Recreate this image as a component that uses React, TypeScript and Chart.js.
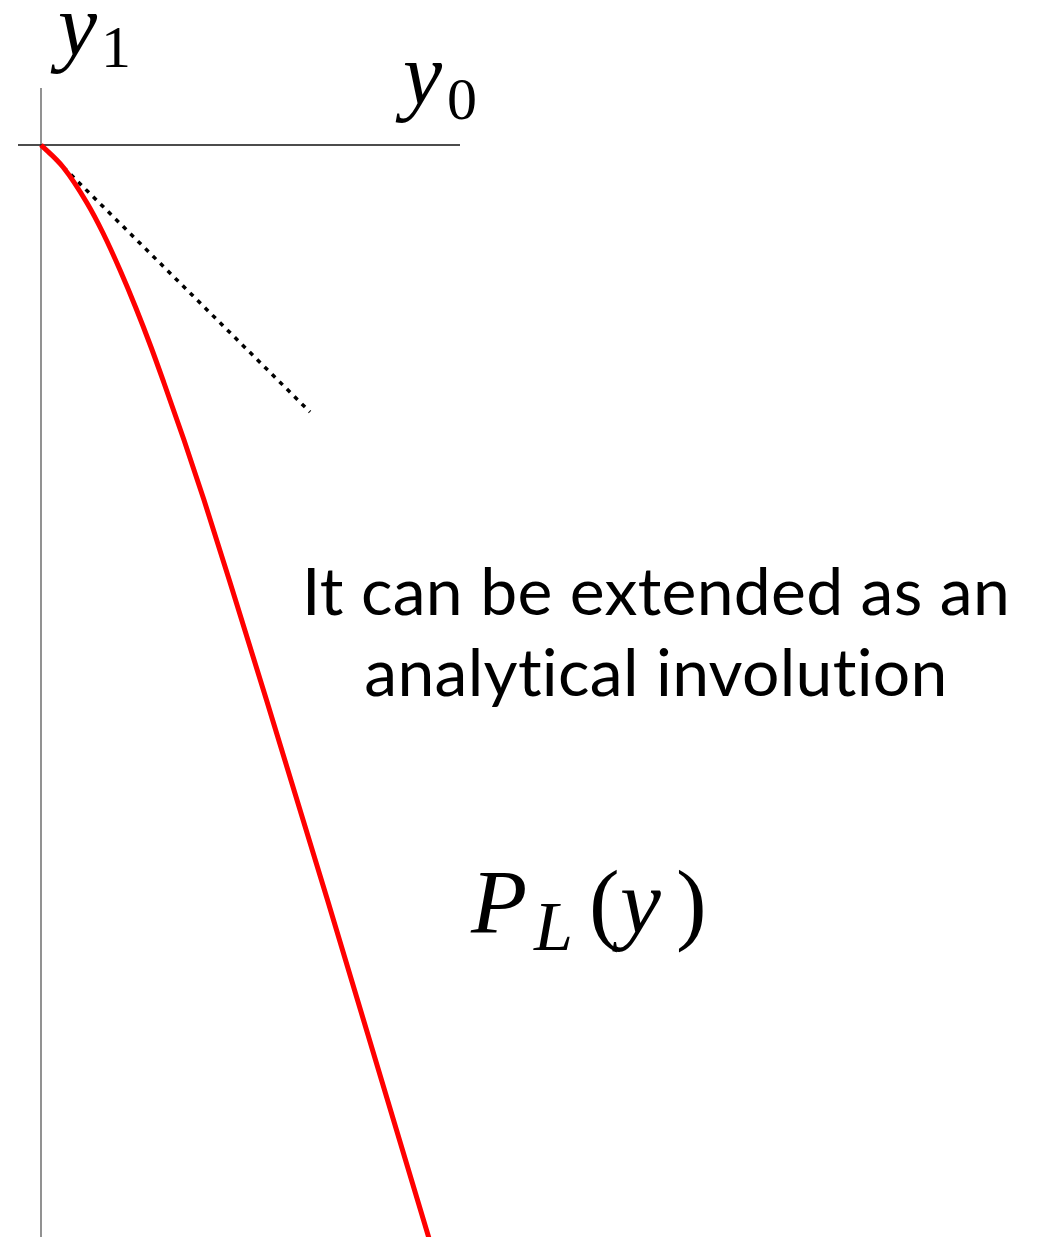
import React, { useEffect, useRef } from "react";
import { Chart, registerables } from "chart.js";

Chart.register(...registerables);

// Red curve P_L(y), sampled in plot units (origin at the crossing of the two axes)
const curveX = [0, 0.22, 0.46, 0.62, 0.79, 0.945, 1.1, 1.23, 1.43, 1.63, 1.945, 2.255, 2.865, 3.465, 3.876, 3.945];
const curveY = [0, -0.22, -0.58, -0.88, -1.25, -1.62, -2.02, -2.38, -2.95, -3.55, -4.55, -5.55, -7.55, -9.55, -10.92, -11.15];

// Dotted tangent at the origin
const tangentX = [0, 2.69];
const tangentY = [0, -2.67];

// Axis segments
const hAxisX = [-0.23, 4.19];
const hAxisY = [0, 0];
const vAxisX = [0, 0];
const vAxisY = [0.57, -11.2];

// Plot window
const xRange = [-0.41, 10.03];
const yRange = [-10.92, 1.45];

const noteLines = ["It can be extended as an", "analytical involution"];

const W = 1044;
const H = 1237;

const pts = (xs: number[], ys: number[]) => xs.map((x, i) => ({ x, y: ys[i] }));

const MATH = '"Liberation Serif", "DejaVu Serif", serif';
const SANS = 'Lato, "Open Sans", sans-serif';

const labelsPlugin = {
  id: "labels",
  afterDatasetsDraw(chart: any) {
    const ctx = chart.ctx as CanvasRenderingContext2D;
    ctx.save();
    ctx.fillStyle = "#000";
    ctx.textBaseline = "alphabetic";

    // y1 (vertical axis) and y0 (horizontal axis)
    ctx.textAlign = "left";
    ctx.font = `italic 88px ${MATH}`;
    ctx.fillText("y", 58, 55);
    ctx.fillText("y", 403, 104);
    ctx.font = `60px ${MATH}`;
    ctx.fillText("1", 101, 67);
    ctx.fillText("0", 447, 119);

    // annotation
    ctx.textAlign = "center";
    ctx.font = `66px ${SANS}`;
    (ctx as any).letterSpacing = "0.3px";
    ctx.fillText(noteLines[0], 656, 615);
    ctx.fillText(noteLines[1], 656, 696);
    (ctx as any).letterSpacing = "0px";

    // P_L(y)
    ctx.textAlign = "left";
    ctx.font = `italic 92px ${MATH}`;
    ctx.fillText("P", 471, 933);
    ctx.fillText("y", 620, 933);
    ctx.font = `italic 70px ${MATH}`;
    ctx.fillText("L", 534, 950);
    ctx.font = `92px ${MATH}`;
    ctx.fillText("(", 589, 933);
    ctx.fillText(")", 676, 933);

    ctx.restore();
  },
};

export default function App() {
  const ref = useRef<HTMLCanvasElement | null>(null);

  useEffect(() => {
    if (!ref.current) return;
    const chart = new Chart(ref.current, {
      type: "line",
      data: {
        datasets: [
          {
            data: pts(curveX, curveY),
            borderColor: "#ff0000",
            borderWidth: 5,
            pointRadius: 0,
            cubicInterpolationMode: "monotone",
          },
          {
            data: pts(tangentX, tangentY),
            borderColor: "#000",
            borderWidth: 3.5,
            borderDash: [4.5, 6],
            pointRadius: 0,
          },
          {
            data: pts(hAxisX, hAxisY),
            borderColor: "#111",
            borderWidth: 1.5,
            pointRadius: 0,
          },
          {
            data: pts(vAxisX, vAxisY),
            borderColor: "#777",
            borderWidth: 1.6,
            pointRadius: 0,
          },
        ],
      },
      options: {
        animation: false,
        responsive: false,
        events: [],
        layout: { padding: 0 },
        plugins: { legend: { display: false }, tooltip: { enabled: false } },
        scales: {
          x: { type: "linear", display: false, min: xRange[0], max: xRange[1] },
          y: { type: "linear", display: false, min: yRange[0], max: yRange[1] },
        },
      },
      plugins: [labelsPlugin],
    });
    return () => chart.destroy();
  }, []);

  return (
    <div style={{ position: "absolute", left: 0, top: 0, width: W, height: H, background: "#fff" }}>
      <canvas ref={ref} width={W} height={H} />
    </div>
  );
}
